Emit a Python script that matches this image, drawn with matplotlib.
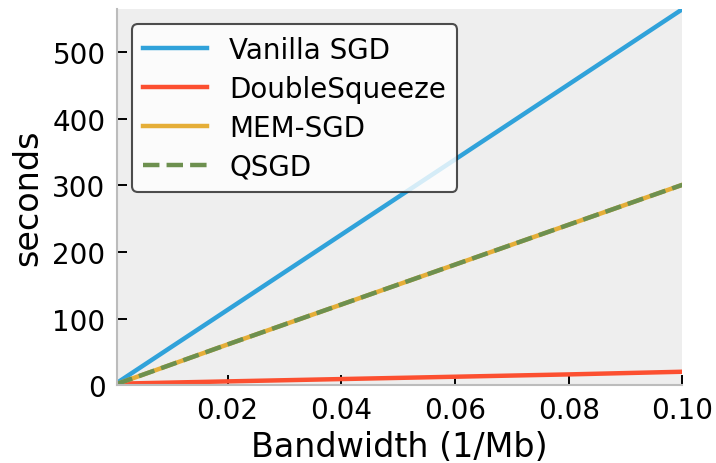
import matplotlib

matplotlib.use('Agg')
import matplotlib.pyplot as plt

# inverse bandwidth (1/Mb) and run time in seconds
inv_bandwidth = [0.0005, 0.02, 0.04, 0.06, 0.08, 0.1]
vanilla_sgd = [3, 113, 226, 339, 452, 565]
double_squeeze = [2, 5.5, 9, 12.5, 16, 20]
mem_sgd = [1.5, 61, 121, 181, 241, 301]
qsgd = [1.5, 61, 121, 181, 241, 301]

fig = plt.figure(figsize=(7.16, 4.64), dpi=100)
ax = fig.add_axes([0.163, 0.168, 0.79, 0.81])
ax.set_facecolor('#eeeeee')

ax.plot(inv_bandwidth, vanilla_sgd, color='#30a2da', lw=3.2, label='Vanilla SGD')
ax.plot(inv_bandwidth, double_squeeze, color='#fc4f30', lw=3.2, label='DoubleSqueeze')
ax.plot(inv_bandwidth, mem_sgd, color='#e5ae38', lw=3.2, label='MEM-SGD')
ax.plot(inv_bandwidth, qsgd, color='#6d904f', lw=3.2, ls='--', label='QSGD')

ax.set_xlim(inv_bandwidth[0], 0.1)
ax.set_ylim(0, 565)
ax.set_xticks([0.02, 0.04, 0.06, 0.08, 0.10])
ax.set_xticklabels(['0.02', '0.04', '0.06', '0.08', '0.10'])
ax.set_yticks([0, 100, 200, 300, 400, 500])

for side in ['top', 'right']:
    ax.spines[side].set_visible(False)
for side in ['left', 'bottom']:
    ax.spines[side].set_color('#bcbcbc')
    ax.spines[side].set_linewidth(1.5)
ax.tick_params(direction='in', length=7, width=1.4, color='black', labelsize=20, pad=8)

ax.set_xlabel('Bandwidth (1/Mb)', fontsize=24, labelpad=4)
ax.set_ylabel('seconds', fontsize=24, labelpad=6)

leg = ax.legend(loc='upper left', fontsize=20, frameon=True, fancybox=True, framealpha=0.8,
                facecolor='white', edgecolor='#222222', handlelength=2.3,
                borderaxespad=0.55, labelspacing=0.4)
leg.get_frame().set_linewidth(1.5)

fig.savefig('out.png', dpi=100)
